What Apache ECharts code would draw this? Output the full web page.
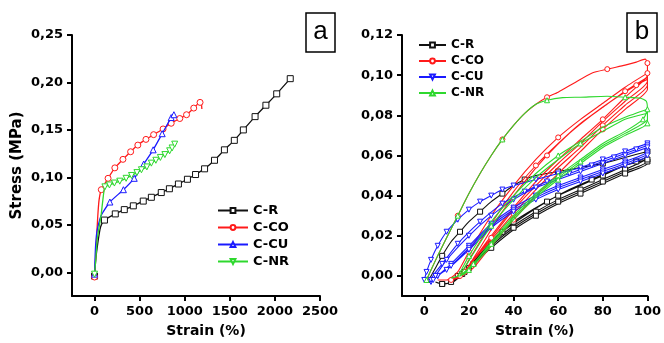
<!DOCTYPE html>
<html><head><meta charset="utf-8">
<script src="https://cdn.jsdelivr.net/npm/echarts@6/dist/echarts.min.js"></script>
<style>html,body{margin:0;padding:0;background:#fff}#c{width:664px;height:343px}</style>
</head><body><div id="c"></div>
<script>
const seriesNames = ['C-R', 'C-CO', 'C-CU', 'C-NR'];
const aXTicks = [0, 500, 1000, 1500, 2000, 2500];
const aYTicks = [0, 0.05, 0.10, 0.15, 0.20, 0.25];
const bXTicks = [0, 20, 40, 60, 80, 100];
const bYTicks = [0, 0.02, 0.04, 0.06, 0.08, 0.10, 0.12];

// Panel a: tensile curves [strain %, stress MPa]
const aCR = [[0,-0.004],[15,0.015],[35,0.03],[60,0.045],[80,0.051],[110,0.055],[230,0.0615],[330,0.066],[430,0.070],[540,0.075],[630,0.079],[740,0.084],[830,0.088],[930,0.093],[1030,0.098],[1120,0.103],[1220,0.109],[1330,0.118],[1440,0.129],[1550,0.139],[1650,0.150],[1780,0.164],[1900,0.176],[2020,0.188],[2170,0.204]];
const aCO = [[0,-0.005],[12,0.015],[22,0.035],[35,0.058],[50,0.076],[75,0.087],[150,0.099],[225,0.110],[315,0.119],[400,0.127],[480,0.134],[570,0.140],[655,0.145],[760,0.151],[850,0.157],[945,0.162],[1020,0.166],[1100,0.173],[1170,0.179],[1185,0.177],[1190,0.172]];
const aCU = [[0,-0.002],[10,0.025],[25,0.042],[48,0.052],[70,0.059],[92,0.063],[170,0.074],[320,0.087],[440,0.099],[545,0.114],[650,0.129],[750,0.146],[850,0.163],[880,0.166]];
const aNR = [[0,-0.002],[15,0.015],[30,0.035],[55,0.05],[74,0.061],[92,0.076],[115,0.090],[165,0.092],[220,0.094],[280,0.096],[350,0.099],[410,0.102],[470,0.105],[520,0.108],[580,0.111],[630,0.115],[680,0.118],[730,0.121],[780,0.124],[833,0.128],[860,0.131],[889,0.135]];

// Panel b: cyclic loading/unloading [strain %, stress MPa]
const bCR = [[2,-0.002],[5,0.004],[8,0.010],[12,0.017],[16,0.022],[20,0.027],[25,0.032],[30,0.037],[35,0.041],[40,0.045],[45,0.048],[50,0.050],[60,0.052],[70,0.054],[80,0.056],[90,0.059],[100,0.062],
  [100,0.059],[90,0.053],[80,0.048],[70,0.043],[60,0.038],[50,0.032],[40,0.025],[30,0.016],[22,0.007],[17,0.001],[13,-0.003],[8,-0.004],[5,-0.003],
  [8,-0.004],[13,-0.003],[18,0.002],[25,0.011],[35,0.022],[45,0.030],[55,0.037],[65,0.043],[75,0.048],[85,0.053],[95,0.057],[100,0.059],
  [100,0.057],[90,0.052],[80,0.047],[70,0.042],[60,0.037],[50,0.031],[40,0.024],[30,0.015],[22,0.006],[16,0.0],[12,-0.003],
  [14,-0.002],[20,0.004],[30,0.017],[40,0.027],[50,0.034],[60,0.040],[70,0.045],[80,0.050],[90,0.055],[100,0.058],
  [100,0.056],[90,0.051],[80,0.046],[70,0.041],[60,0.036],[50,0.030],[40,0.023],[30,0.014],[20,0.004],[15,0.0]];
const bCO = [[1,-0.002],[3,0.003],[6,0.010],[10,0.019],[15,0.030],[20,0.041],[25,0.051],[30,0.060],[35,0.068],[40,0.075],[45,0.081],[50,0.0855],[55,0.089],[60,0.0915],[67,0.096],[75,0.101],[82,0.103],[90,0.105],[95,0.1065],[99,0.108],[100,0.106],
  [100,0.100],[95,0.094],[90,0.089],[80,0.078],[70,0.068],[60,0.058],[50,0.047],[40,0.034],[30,0.020],[22,0.008],[17,0.0],[12,-0.002],[6,-0.002],
  [10,-0.002],[15,0.002],[20,0.012],[30,0.030],[40,0.045],[50,0.058],[60,0.069],[70,0.078],[80,0.086],[90,0.094],[100,0.101],
  [100,0.097],[90,0.087],[80,0.077],[70,0.066],[60,0.056],[50,0.045],[40,0.033],[30,0.019],[22,0.008],[17,0.001],[12,-0.002],
  [16,0.0],[20,0.008],[30,0.026],[40,0.042],[50,0.055],[60,0.066],[70,0.076],[80,0.084],[90,0.092],[100,0.099],
  [100,0.095],[90,0.085],[80,0.075],[70,0.064],[60,0.054],[50,0.043],[40,0.031],[30,0.018],[20,0.005],[16,0.0],
  [18,0.002],[25,0.014],[35,0.032],[45,0.047],[55,0.060],[65,0.071],[75,0.080],[85,0.088],[95,0.095],[100,0.098],
  [100,0.093],[90,0.083],[80,0.073],[70,0.062],[60,0.051],[50,0.040],[40,0.028],[30,0.015],[22,0.004],[17,0.0]];
const bCU = [[0,-0.002],[1,0.002],[3,0.008],[6,0.015],[10,0.022],[15,0.028],[20,0.033],[25,0.037],[30,0.040],[35,0.043],[40,0.045],[50,0.048],[60,0.051],[70,0.054],[80,0.058],[90,0.062],[100,0.066],
  [100,0.062],[90,0.057],[80,0.053],[70,0.049],[60,0.045],[50,0.040],[40,0.034],[30,0.026],[20,0.015],[12,0.006],[6,0.0],[3,-0.003],
  [3,-0.002],[8,0.006],[15,0.016],[25,0.027],[35,0.036],[45,0.042],[55,0.047],[65,0.051],[75,0.055],[85,0.059],[95,0.063],[100,0.065],
  [100,0.061],[90,0.056],[80,0.052],[70,0.048],[60,0.044],[50,0.039],[40,0.033],[30,0.025],[20,0.014],[12,0.005],[6,0.0],[4,-0.002],
  [5,0.0],[10,0.008],[20,0.020],[30,0.030],[40,0.038],[50,0.044],[60,0.048],[70,0.052],[80,0.056],[90,0.060],[100,0.064],
  [100,0.060],[90,0.055],[80,0.051],[70,0.047],[60,0.043],[50,0.038],[40,0.032],[30,0.024],[20,0.013],[10,0.003],[5,0.0]];
const bNR = [[1,-0.002],[3,0.003],[6,0.010],[10,0.019],[15,0.030],[20,0.041],[25,0.051],[30,0.060],[35,0.068],[40,0.075],[45,0.081],[50,0.0855],[55,0.0875],[62,0.0888],[70,0.089],[82,0.0895],[90,0.089],[97,0.0885],[99.5,0.087],[100,0.083],
  [98,0.078],[90,0.072],[80,0.066],[70,0.058],[60,0.050],[50,0.041],[40,0.030],[30,0.017],[22,0.006],[18,0.001],[12,-0.001],
  [15,0.0],[20,0.010],[30,0.027],[40,0.040],[50,0.051],[60,0.060],[70,0.067],[80,0.074],[90,0.079],[100,0.083],
  [100,0.078],[90,0.071],[80,0.065],[70,0.057],[60,0.049],[50,0.040],[40,0.029],[30,0.016],[20,0.004],[16,0.0],
  [18,0.004],[30,0.025],[40,0.038],[50,0.049],[60,0.058],[70,0.066],[80,0.072],[90,0.078],[100,0.081],
  [100,0.076],[90,0.070],[80,0.064],[70,0.056],[60,0.048],[50,0.039],[40,0.028],[30,0.015],[20,0.003],[16,0.0]];

const colors = ['#111111', '#ff1a1a', '#1a1aff', '#2ed82e'];
const downTri = 'path://M0,0L10,0L5,9Z';
const aSymbols = ['rect', 'circle', 'triangle', downTri];
const bSymbols = ['rect', 'circle', downTri, 'triangle'];
const aNoMarker = [[1,2,3,4], [1,2,3,4,19,20], [1,2,3,4,5], [1,2,3,4,5]];
const bMarkEvery = [2, 4, 1, 4];
const FONT = 'DejaVu Sans';
const fmt = v => v.toFixed(2).replace('.', ',');

function axis(gi, min, max, ticks, fmtFn, name, isX) {
  return {
    type: 'value', gridIndex: gi, min: min, max: max,
    name: name, nameLocation: 'middle', nameGap: isX ? 28 : 47,
    nameTextStyle: {fontFamily: FONT, fontWeight: 'bold', fontSize: isX ? 14 : 15, color: '#000', padding: isX ? [0,0,0,20] : 0},
    axisLine: {show: true, onZero: false, lineStyle: {color: '#000', width: 2}},
    axisTick: {show: true, inside: false, length: 5, lineStyle: {color: '#000', width: 2}, customValues: ticks},
    axisLabel: {customValues: ticks, margin: 9, fontFamily: FONT, fontWeight: 'bold', fontSize: 13, color: '#000', formatter: fmtFn},
    splitLine: {show: false}
  };
}

const series = [];
[aCR, aCO, aCU, aNR].forEach((pts, s) => {
  series.push({
    type: 'line', name: seriesNames[s], xAxisIndex: 0, yAxisIndex: 0,
    data: pts.map((p, i) => aNoMarker[s].indexOf(i) >= 0 ? {value: p, symbol: 'none'} : {value: p}),
    smooth: 0.2, symbol: aSymbols[s], symbolSize: 6, showAllSymbol: true,
    lineStyle: {color: colors[s], width: 1.3},
    itemStyle: {color: '#fff', borderColor: colors[s], borderWidth: 1},
    animation: false, z: 2 + s
  });
});
[bCR, bCO, bCU, bNR].forEach((pts, s) => {
  series.push({
    type: 'line', name: 'b:' + seriesNames[s], xAxisIndex: 1, yAxisIndex: 1,
    data: pts.map((p, i) => i % bMarkEvery[s] === 0 ? {value: p} : {value: p, symbol: 'none'}),
    smooth: 0.2, symbol: bSymbols[s], symbolSize: 5, showAllSymbol: true,
    lineStyle: {color: colors[s], width: 1.1},
    itemStyle: {color: '#fff', borderColor: colors[s], borderWidth: 1},
    animation: false, z: 2 + s
  });
});

const chart = echarts.init(document.getElementById('c'), null, {renderer: 'canvas'});
chart.setOption({
  backgroundColor: '#fff',
  animation: false,
  grid: [
    {left: 72, right: 344, top: 35, bottom: 47},
    {left: 402, right: 14, top: 35, bottom: 47}
  ],
  xAxis: [
    axis(0, -250, 2500, aXTicks, v => String(v), 'Strain (%)', true),
    axis(1, -10, 100, bXTicks, v => String(v), 'Strain (%)', true)
  ],
  yAxis: [
    axis(0, -0.025, 0.25, aYTicks, fmt, 'Stress (MPa)', false),
    axis(1, -0.01, 0.12, bYTicks, fmt, '', false)
  ],
  legend: [
    {data: seriesNames, orient: 'vertical', left: 212, top: 199, itemWidth: 30, itemHeight: 6, itemGap: 4, selectedMode: false,
     textStyle: {fontFamily: FONT, fontWeight: 'bold', fontSize: 13, color: '#000'}},
    {data: seriesNames.map(n => 'b:' + n), formatter: n => n.slice(2), orient: 'vertical', left: 413, top: 34, itemWidth: 27, itemHeight: 6, itemGap: 4, selectedMode: false,
     textStyle: {fontFamily: FONT, fontWeight: 'bold', fontSize: 12, color: '#000'}}
  ],
  graphic: [
    {type: 'rect', shape: {x: 306, y: 13, width: 29, height: 39}, style: {fill: '#fff', stroke: '#000', lineWidth: 1.5}},
    {type: 'text', x: 320.5, y: 32, style: {text: 'a', font: '26px "Liberation Sans"', fill: '#000', align: 'center', verticalAlign: 'middle'}},
    {type: 'rect', shape: {x: 627, y: 13, width: 30, height: 39}, style: {fill: '#fff', stroke: '#000', lineWidth: 1.5}},
    {type: 'text', x: 642, y: 32, style: {text: 'b', font: '26px "Liberation Sans"', fill: '#000', align: 'center', verticalAlign: 'middle'}}
  ],
  series: series
});
</script>
</body></html>
